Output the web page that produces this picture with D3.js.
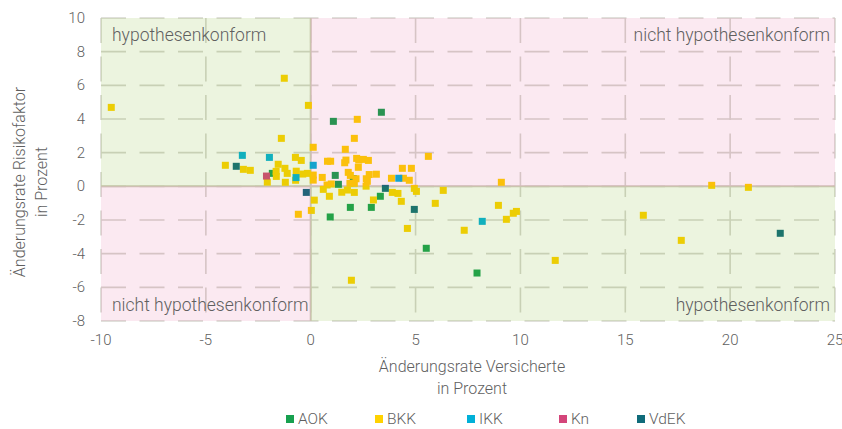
<!DOCTYPE html>
<html>
<head>
<meta charset="utf-8">
<style>
  body { margin: 0; background: #fff; }
  svg { display: block; }
  text { font-family: Roboto, "Open Sans", sans-serif; font-weight: 300; fill: #5f5f5f; }
  .grid line { stroke: #d6d6cf; stroke-width: 1.6; stroke-dasharray: 25,13.5; }
  .zero { stroke: #d3cdc0; stroke-width: 2; }
</style>
</head>
<body>
<svg width="842" height="429"></svg>
<script src="https://d3js.org/d3.v7.min.js"></script>
<script>
// categories + values: [change insured %, change risk factor %]
var groups = ["AOK", "BKK", "IKK", "Kn", "VdEK"];
var colors = ["#17a04f", "#ffd200", "#00b0d8", "#d4457a", "#0f6b7a"];

var aok = [[3.37,4.40],[1.08,3.86],[-1.83,0.77],[1.17,0.65],[1.32,0.12],[2.03,0.46],
  [3.32,-0.59],[2.89,-1.25],[1.89,-1.25],[0.93,-1.82],[5.51,-3.68],[7.93,-5.15]];
var bkk = [[-1.26,6.42],[-9.51,4.69],[-0.11,4.81],[2.22,3.98],[-1.40,2.85],[2.08,2.85],
  [0.12,2.32],[1.65,2.20],[-0.73,1.72],[-0.45,1.54],[0.80,1.49],[0.95,1.49],[1.68,1.56],
  [1.62,1.40],[2.19,1.66],[2.29,1.56],[2.51,1.60],[2.75,1.54],[2.27,1.13],[-4.07,1.25],
  [-3.21,1.01],[-2.88,0.95],[-1.55,1.31],[-1.23,1.07],[-1.12,0.77],[-1.65,0.89],[-1.64,0.59],
  [-2.07,0.25],[-1.21,0.24],[-0.69,0.90],[-0.72,0.36],[-0.38,0.73],[-0.16,0.77],[0.12,0.67],
  [0.12,0.37],[0.55,0.53],[0.98,0.14],[0.78,0.08],[0.60,-0.18],[1.79,0.83],[1.89,0.65],
  [2.16,0.45],[1.87,0.18],[2.08,0.18],[1.48,-0.35],[1.75,-0.22],[2.08,-0.36],[0.89,-0.59],
  [0.17,-0.82],[0.03,-1.43],[-0.59,-1.66],[2.65,0.45],[2.79,0.70],[3.13,0.72],[2.70,0.30],
  [2.64,0.01],[2.99,-0.81],[3.85,0.48],[3.89,-0.36],[4.16,-0.42],[5.61,1.78],[4.37,1.07],
  [4.80,1.07],[4.42,0.48],[4.70,0.36],[4.94,-0.12],[5.04,-0.30],[6.32,-0.24],[9.09,0.24],
  [4.32,-0.89],[5.94,-1.01],[4.61,-2.50],[7.32,-2.61],[8.95,-1.13],[9.33,-1.96],[9.66,-1.60],
  [9.81,-1.49],[11.66,-4.40],[1.94,-5.58],[19.12,0.06],[20.87,-0.06],[15.86,-1.72],[17.67,-3.21]];
var ikk = [[-3.26,1.84],[-1.97,1.72],[0.12,1.25],[-0.70,0.52],[4.20,0.48],[8.18,-2.08]];
var kn = [[-2.11,0.61]];
var vdek = [[-3.55,1.19],[-0.21,-0.36],[3.56,-0.12],[4.94,-1.37],[22.39,-2.79]];
var series = [aok, bkk, ikk, kn, vdek];

var xTicks = [-10, -5, 0, 5, 10, 15, 20, 25];
var yTicks = [-8, -6, -4, -2, 0, 2, 4, 6, 8, 10];

var svg = d3.select("svg");
var x = d3.scaleLinear().domain([-10, 25]).range([101, 835]);
var y = d3.scaleLinear().domain([-8, 10]).range([321, 18]);

// dashed grid
var grid = svg.append("g").attr("class", "grid");
grid.selectAll(".gx").data(xTicks).enter().append("line")
    .attr("x1", d => x(d)).attr("x2", d => x(d))
    .attr("y1", y(10)).attr("y2", y(-8));
grid.selectAll(".gy").data(yTicks).enter().append("line")
    .attr("x1", x(-10)).attr("x2", x(25))
    .attr("y1", d => y(d)).attr("y2", d => y(d));

svg.append("line").attr("class", "zero")
    .attr("x1", x(0)).attr("x2", x(0)).attr("y1", y(10)).attr("y2", y(-8));
svg.append("line").attr("class", "zero")
    .attr("x1", x(-10)).attr("x2", x(25)).attr("y1", y(0)).attr("y2", y(0));

// points
var s = 7;
series.forEach(function(data, i) {
  svg.append("g").selectAll("rect").data(data).enter().append("rect")
    .attr("x", d => x(d[0]) - s / 2)
    .attr("y", d => y(d[1]) - s / 2)
    .attr("width", s).attr("height", s)
    .attr("fill", colors[i]);
});

// quadrant tints drawn on top (semi-transparent)
var quads = [
  {x0: -10, x1: 0, y0: 0, y1: 10, c: "rgba(120,180,30,0.14)"},
  {x0: 0, x1: 25, y0: 0, y1: 10, c: "rgba(220,40,120,0.10)"},
  {x0: -10, x1: 0, y0: -8, y1: 0, c: "rgba(220,40,120,0.10)"},
  {x0: 0, x1: 25, y0: -8, y1: 0, c: "rgba(120,180,30,0.14)"}
];
svg.append("g").selectAll("rect").data(quads).enter().append("rect")
    .attr("x", d => x(d.x0)).attr("y", d => y(d.y1))
    .attr("width", d => x(d.x1) - x(d.x0)).attr("height", d => y(d.y0) - y(d.y1))
    .attr("fill", d => d.c);

// quadrant labels
var ql = svg.append("g").style("font-size", "17.5px").style("fill", "#6a6a6a");
ql.append("text").attr("x", 112).attr("y", 41).text("hypothesenkonform");
ql.append("text").attr("x", 830).attr("y", 41).attr("text-anchor", "end").text("nicht hypothesenkonform");
ql.append("text").attr("x", 112).attr("y", 311).text("nicht hypothesenkonform");
ql.append("text").attr("x", 830).attr("y", 311).attr("text-anchor", "end").text("hypothesenkonform");

// tick labels
svg.append("g").selectAll("text").data(xTicks).enter().append("text")
    .attr("x", d => x(d)).attr("y", 345).attr("text-anchor", "middle")
    .style("font-size", "15px").text(d => d);
svg.append("g").selectAll("text").data(yTicks).enter().append("text")
    .attr("x", 85).attr("y", d => y(d) + 5).attr("text-anchor", "end")
    .style("font-size", "15px").text(d => d);

// axis titles
var xt = svg.append("text").attr("text-anchor", "middle").style("font-size", "16px");
xt.append("tspan").attr("x", 472).attr("y", 372).text("Änderungsrate Versicherte");
xt.append("tspan").attr("x", 472).attr("y", 394).text("in Prozent");
var yt = svg.append("text").attr("text-anchor", "middle").style("font-size", "16px")
    .attr("transform", "translate(0,182) rotate(-90)");
yt.append("tspan").attr("x", 0).attr("y", 25).text("Änderungsrate Risikofaktor");
yt.append("tspan").attr("x", 0).attr("y", 47).text("in Prozent");

// legend
var legX = [286, 375, 467, 559, 637];
var leg = svg.append("g").selectAll("g").data(groups).enter().append("g")
    .attr("transform", (d, i) => "translate(" + legX[i] + ",419)");
leg.append("rect").attr("x", 0).attr("y", -4).attr("width", 8).attr("height", 8)
    .attr("fill", (d, i) => colors[i]);
leg.append("text").attr("x", 12).attr("y", 5).style("font-size", "15.5px").text(d => d);
</script>
</body>
</html>
